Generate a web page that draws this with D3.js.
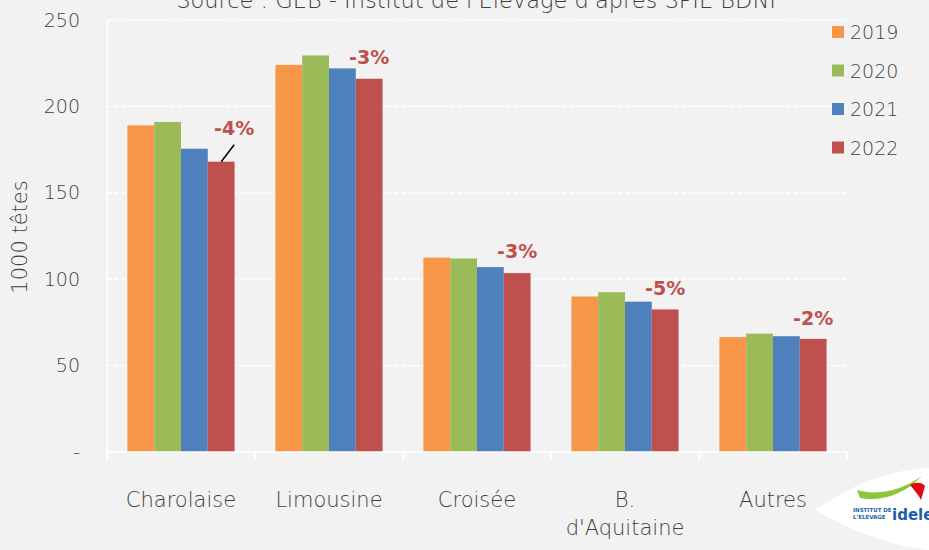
<!DOCTYPE html>
<html>
<head>
<meta charset="utf-8">
<script src="https://cdn.jsdelivr.net/npm/d3@7"></script>
<style>
  body { margin: 0; background: #f2f2f2; }
  svg { display: block; }
  text { font-family: "DejaVu Sans", sans-serif; }
</style>
</head>
<body>
<svg id="chart" width="929" height="550"></svg>
<script>
"use strict";

// data
const categories = ["Charolaise", "Limousine", "Croisée", "B.\nd'Aquitaine", "Autres"];
const years = ["2019", "2020", "2021", "2022"];
const v2019 = [189, 224, 112.5, 90, 66.5];
const v2020 = [191, 229.5, 112, 92.5, 68.5];
const v2021 = [175.5, 222, 107, 87, 67];
const v2022 = [168, 216, 103.5, 82.5, 65.5];
const changes = ["-4%", "-3%", "-3%", "-5%", "-2%"];
const yTicks = [0, 50, 100, 150, 200, 250];
const colors = ["#f79646", "#9bbb59", "#4f81bd", "#c0504d"];

const series = [v2019, v2020, v2021, v2022];

const svg = d3.select("#chart");
const margin = {left: 107, right: 82, top: 20, bottom: 98};
const width = +svg.attr("width"), height = +svg.attr("height");

const x0 = d3.scaleBand()
  .domain(categories)
  .range([margin.left, width - margin.right])
  .paddingInner(0.276)
  .paddingOuter(0.138);

const x1 = d3.scaleBand()
  .domain(years)
  .range([0, x0.bandwidth()]);

const y = d3.scaleLinear()
  .domain([0, 250])
  .range([height - margin.bottom, margin.top]);

const color = d3.scaleOrdinal().domain(years).range(colors);

const textGrey = "#3f3f3f";
const lightWeight = 300;

// title (clipped at the top like the source image)
svg.append("text")
  .attr("x", 476)
  .attr("y", 8)
  .attr("text-anchor", "middle")
  .attr("fill", textGrey)
  .style("font-size", "22.5px")
  .style("font-weight", lightWeight)
  .text("Source : GEB - Institut de l'Elevage d'après SPIE BDNI");

// gridlines
svg.append("g")
  .selectAll("line")
  .data(yTicks.slice(1))
  .enter().append("line")
    .attr("x1", margin.left)
    .attr("x2", width - margin.right)
    .attr("y1", d => y(d))
    .attr("y2", d => y(d))
    .attr("stroke", "#ffffff")
    .attr("stroke-width", 1.2)
    .attr("stroke-dasharray", "5,2");

// y axis
const yAxis = svg.append("g")
  .attr("transform", "translate(" + margin.left + ",0)")
  .call(d3.axisLeft(y).tickValues(yTicks).tickSize(0).tickPadding(27)
    .tickFormat(d => d === 0 ? "-" : d));
yAxis.select(".domain").attr("stroke", "#ffffff").attr("stroke-width", 1.5);
yAxis.selectAll("text")
  .attr("fill", textGrey)
  .style("font-size", "19px")
  .style("font-weight", lightWeight)
  .style("font-family", "'DejaVu Sans', sans-serif");

svg.append("text")
  .attr("transform", "translate(27," + 237 + ") rotate(-90)")
  .attr("text-anchor", "middle")
  .attr("fill", textGrey)
  .style("font-size", "21px")
  .style("font-weight", lightWeight)
  .text("1000 têtes");

// bars
const groups = svg.append("g")
  .selectAll("g")
  .data(categories)
  .enter().append("g")
    .attr("transform", d => "translate(" + x0(d) + ",0)");

groups.selectAll("rect")
  .data((d, i) => years.map((yr, j) => ({year: yr, value: series[j][i]})))
  .enter().append("rect")
    .attr("x", d => x1(d.year))
    .attr("width", x1.bandwidth())
    .attr("y", d => y(d.value))
    .attr("height", d => y(0) - y(d.value))
    .attr("fill", d => color(d.year));

// x axis line and ticks between categories
const step = x0.step();
svg.append("line")
  .attr("x1", margin.left)
  .attr("x2", width - margin.right)
  .attr("y1", y(0))
  .attr("y2", y(0))
  .attr("stroke", "#ffffff")
  .attr("stroke-width", 1.5);

svg.append("g")
  .selectAll("line")
  .data(d3.range(categories.length + 1))
  .enter().append("line")
    .attr("x1", i => margin.left + i * step)
    .attr("x2", i => margin.left + i * step)
    .attr("y1", y(0))
    .attr("y2", y(0) + 8)
    .attr("stroke", "#ffffff")
    .attr("stroke-width", 1.5);

// category labels
const catLabels = svg.append("g")
  .selectAll("text")
  .data(categories)
  .enter().append("text")
    .attr("text-anchor", "middle")
    .attr("fill", textGrey)
    .style("font-size", "21px")
    .style("font-weight", lightWeight)
    .attr("x", d => x0(d) + x0.bandwidth() / 2)
    .attr("y", 507);
catLabels.each(function(d) {
  const lines = d.split("\n");
  const t = d3.select(this);
  lines.forEach((ln, k) => {
    t.append("tspan")
      .attr("x", x0(d) + x0.bandwidth() / 2)
      .attr("dy", k === 0 ? 0 : 28)
      .text(ln);
  });
});

// change labels above the 2022 bar
const labelPos = [
  {dx: 13, dy: -27},
  {dx: 0, dy: -15},
  {dx: 0, dy: -15},
  {dx: 0, dy: -14},
  {dx: 0, dy: -14}
];
svg.append("g")
  .selectAll("text")
  .data(categories)
  .enter().append("text")
    .attr("text-anchor", "middle")
    .attr("fill", "#c0504d")
    .style("font-size", "19px")
    .style("font-weight", "bold")
    .attr("x", (d, i) => x0(d) + x1("2022") + x1.bandwidth() / 2 + labelPos[i].dx)
    .attr("y", (d, i) => y(v2022[i]) + labelPos[i].dy)
    .text((d, i) => changes[i]);

// leader line for Charolaise
svg.append("line")
  .attr("x1", x0(categories[0]) + x1("2022") + x1.bandwidth() / 2)
  .attr("y1", y(v2022[0]))
  .attr("x2", x0(categories[0]) + x1("2022") + x1.bandwidth() / 2 + 13)
  .attr("y2", y(v2022[0]) - 17)
  .attr("stroke", "#000")
  .attr("stroke-width", 1.5);

// legend
const legend = svg.append("g")
  .selectAll("g")
  .data(years)
  .enter().append("g")
    .attr("transform", (d, i) => "translate(832," + (32 + i * 38.5) + ")");
legend.append("rect")
  .attr("x", 0)
  .attr("y", -6)
  .attr("width", 12)
  .attr("height", 12)
  .attr("fill", d => color(d));
legend.append("text")
  .attr("x", 18)
  .attr("y", 7)
  .attr("fill", textGrey)
  .style("font-size", "19px")
  .style("font-weight", lightWeight)
  .text(d => d);

// logo (rough)
const logo = svg.append("g");
logo.append("path")
  .attr("d", "M929,468 C880,470 842,492 815,510 C850,530 890,546 929,550 Z")
  .attr("fill", "#ffffff");
logo.append("path")
  .attr("d", "M857,490 C880,497 905,488 922,476 C905,494 882,502 860,498 Z")
  .attr("fill", "#8cc63f");
logo.append("path")
  .attr("d", "M910,485 C915,482 922,482 925,486 L921,500 C918,494 914,490 910,485 Z")
  .attr("fill", "#e30613");
logo.append("text")
  .attr("x", 853)
  .attr("y", 512)
  .attr("fill", "#1d5fa8")
  .style("font-size", "5.5px")
  .style("font-weight", "bold")
  .text("INSTITUT DE");
logo.append("text")
  .attr("x", 853)
  .attr("y", 519)
  .attr("fill", "#1d5fa8")
  .style("font-size", "5.5px")
  .style("font-weight", "bold")
  .text("L'ELEVAGE");
logo.append("text")
  .attr("x", 892)
  .attr("y", 520)
  .attr("fill", "#1d5fa8")
  .style("font-size", "15px")
  .style("font-weight", "bold")
  .text("idele");
</script>
</body>
</html>
